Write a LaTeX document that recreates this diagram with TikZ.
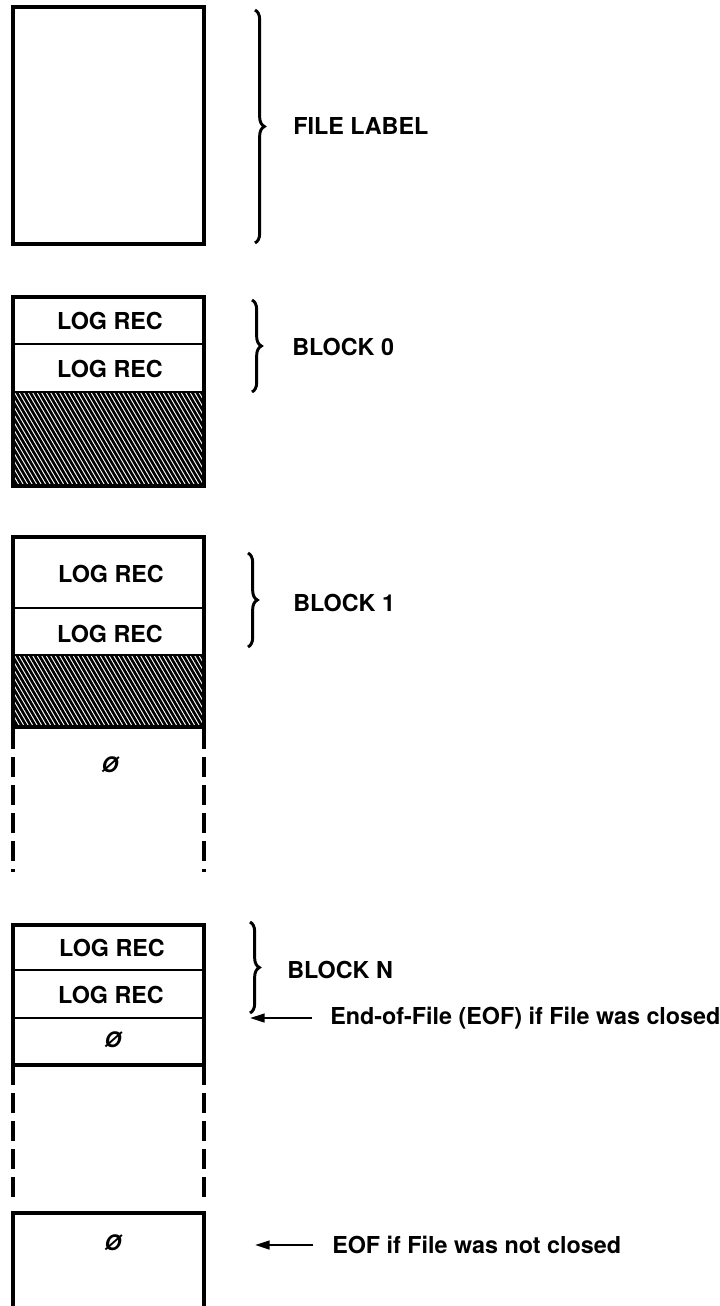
\documentclass[tikz,border=0pt]{standalone}
\usepackage{fontspec}
\setmainfont{TeX Gyre Heros}
\usetikzlibrary{arrows.meta,decorations.pathreplacing,positioning}

\begin{document}
\begin{tikzpicture}[x=0.75pt,y=-0.75pt,
    txt/.style={font=\fontsize{17.5}{20}\selectfont\bfseries, inner sep=0pt},
    zero/.style={font=\fontsize{16}{18}\selectfont\bfseries\itshape, inner sep=0pt},
    outline/.style={line width=3pt},
    divider/.style={line width=2.2pt},
    gap/.style={line width=3pt, dash pattern=on 15pt off 6pt},
    hatch/.style={line width=2pt},
    blockbrace/.style={decorate, decoration={brace, amplitude=7pt}, line width=2.2pt},
    eofarrow/.style={-{Triangle[length=11pt,width=6.5pt]}, line width=1.8pt}]
    \useasboundingbox (0,0) rectangle (720,1306);

    % file label
    \draw[outline] (13,7) rectangle (204,244);
    \draw[blockbrace] (255,10) -- (255,243);
    \node[txt, anchor=west] (flabel) at (293,126) {FILE LABEL};

    % block 0
    \begin{scope}
        \clip (13,392) rectangle (204,486);
        \foreach \x in {-60,-55.5,...,210} \draw[hatch] (\x,392) -- ++(55,94);
    \end{scope}
    \draw[outline] (13,297) rectangle (204,486);
    \draw[divider] (13,344) -- (204,344) (13,392) -- (204,392);
    \node[txt] (rec0a) at (110,321) {LOG REC};
    \node[txt] (rec0b) at (110,369) {LOG REC};
    \draw[blockbrace] (252,300) -- (252,392);
    \node[txt, anchor=west] (blk0) at (292,347) {BLOCK 0};

    % block 1
    \begin{scope}
        \clip (13,655) rectangle (204,727);
        \foreach \x in {-60,-55.5,...,210} \draw[hatch] (\x,655) -- ++(42,72);
    \end{scope}
    \draw[outline] (13,537) rectangle (204,727);
    \draw[divider] (13,608) -- (204,608) (13,655) -- (204,655);
    \node[txt] (rec1a) at (111,574) {LOG REC};
    \node[txt] (rec1b) at (110,634) {LOG REC};
    \draw[blockbrace] (248,553) -- (248,647);
    \node[txt, anchor=west] (blk1) at (293,603) {BLOCK 1};

    \draw[gap] (13,729) -- (13,872) (204,729) -- (204,872);
    \node[zero] (nul1) at (110,765) {Ø};

    % block N
    \draw[outline] (13,925) rectangle (204,1065);
    \draw[divider] (13,970) -- (204,970) (13,1018) -- (204,1018);
    \node[txt] (recNa) at (112,948) {LOG REC};
    \node[txt] (recNb) at (111,995) {LOG REC};
    \node[zero] (nulN) at (113,1040) {Ø};
    \draw[blockbrace] (250,922) -- (250,1013);
    \node[txt, anchor=west] (blkN) at (287,970) {BLOCK N};
    \draw[gap] (13,1065) -- (13,1200) (204,1065) -- (204,1200);

    \node[txt, anchor=west] (eofc) at (330,1018) {End-of-File (EOF) if File was closed};
    \coordinate (eofcTip) at (250,1018);
    \draw[eofarrow] ([xshift=-13.5pt]eofc.west) -- (eofcTip);

    % last block
    \draw[outline] (13,1306) -- (13,1213) -- (204,1213) -- (204,1306);
    \node[zero] (nulL) at (113,1243) {Ø};
    \node[txt, anchor=west] (eofn) at (332,1245) {EOF if File was not closed};
    \coordinate (eofnTip) at (255,1245);
    \draw[eofarrow] ([xshift=-14pt]eofn.west) -- (eofnTip);
\end{tikzpicture}
\end{document}
